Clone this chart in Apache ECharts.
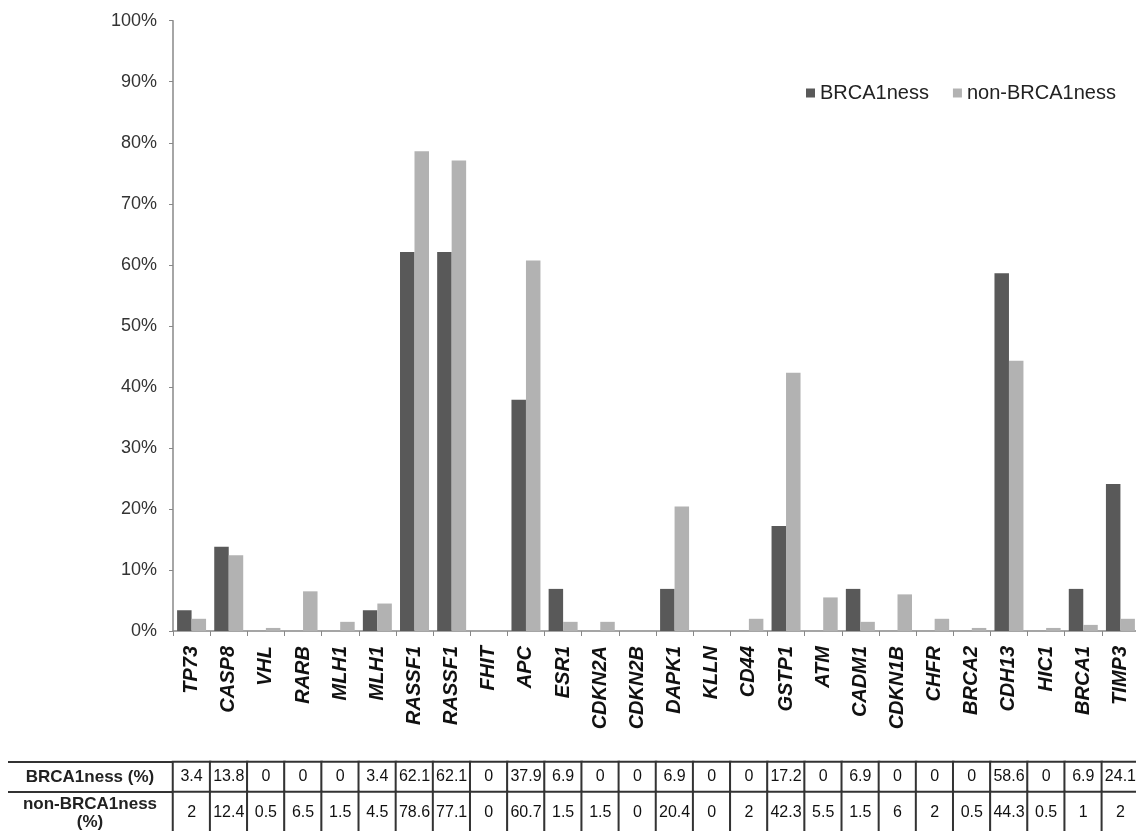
<!DOCTYPE html>
<html>
<head>
<meta charset="utf-8">
<script src="https://cdn.jsdelivr.net/npm/echarts@6/dist/echarts.min.js"></script>
<style>
html,body{margin:0;padding:0;background:#fff;}
#chart{width:1136px;height:831px;}
</style>
</head>
<body>
<div id="chart"></div>
<script>
const categories = ['TP73','CASP8','VHL','RARB','MLH1','MLH1','RASSF1','RASSF1','FHIT','APC','ESR1','CDKN2A','CDKN2B','DAPK1','KLLN','CD44','GSTP1','ATM','CADM1','CDKN1B','CHFR','BRCA2','CDH13','HIC1','BRCA1','TIMP3'];
const brca1ness = [3.4,13.8,0,0,0,3.4,62.1,62.1,0,37.9,6.9,0,0,6.9,0,0,17.2,0,6.9,0,0,0,58.6,0,6.9,24.1];
const nonBrca1ness = [2,12.4,0.5,6.5,1.5,4.5,78.6,77.1,0,60.7,1.5,1.5,0,20.4,0,2,42.3,5.5,1.5,6,2,0.5,44.3,0.5,1,2];
const seriesNames = ['BRCA1ness','non-BRCA1ness'];
const rowHeaders = ['BRCA1ness (%)','non-BRCA1ness\n(%)'];

const FONT = 'Arial, "Liberation Sans", sans-serif';
const chart = echarts.init(document.getElementById('chart'));

function tableY(idx, name) {
  return {
    gridIndex: idx, type: 'category', data: [name],
    axisLine: {show: true, lineStyle: {color: '#222', width: 2}},
    axisTick: {show: true, length: 165, lineStyle: {color: '#333', width: 2}},
    axisLabel: {align: 'center', margin: 83, fontSize: 17, fontWeight: 'bold', color: '#222', fontFamily: FONT, lineHeight: 18},
    splitLine: {show: false}
  };
}
function tableSeries(idx, values) {
  return {
    type: 'heatmap', xAxisIndex: idx, yAxisIndex: idx,
    data: values.map((v, i) => [i, 0, v]),
    itemStyle: {color: '#fff', borderColor: '#333', borderWidth: 2},
    label: {show: true, formatter: p => String(p.value[2]), fontSize: 16, color: '#111', fontFamily: FONT},
    emphasis: {disabled: true}
  };
}

chart.setOption({
  animation: false,
  textStyle: {fontFamily: FONT},
  legend: {
    data: seriesNames, left: 801, top: 78, icon: 'rect',
    itemWidth: 9, itemHeight: 9, itemGap: 24,
    textStyle: {fontSize: 20, color: '#222', fontFamily: FONT}
  },
  grid: [
    {left: 173, top: 20.7, width: 966, height: 610.3, outerBoundsMode: 'none'},
    {left: 173, top: 762, width: 966, height: 30, outerBoundsMode: 'none'},
    {left: 173, top: 792, width: 966, height: 42, outerBoundsMode: 'none'}
  ],
  xAxis: [
    {gridIndex: 0, type: 'category', data: categories,
     axisLine: {lineStyle: {color: '#888', width: 1.5}},
     axisTick: {show: true, length: 5, lineStyle: {color: '#888'}},
     axisLabel: {interval: 0, rotate: 90, fontStyle: 'italic', fontWeight: 'bold', fontSize: 20, color: '#111', margin: 15, fontFamily: FONT}},
    {gridIndex: 1, type: 'category', data: categories, show: false},
    {gridIndex: 2, type: 'category', data: categories, show: false}
  ],
  yAxis: [
    {gridIndex: 0, type: 'value', min: 0, max: 100, interval: 10,
     axisLine: {show: true, lineStyle: {color: '#888', width: 1.5}},
     axisTick: {show: true, length: 4, lineStyle: {color: '#888'}},
     splitLine: {show: false},
     axisLabel: {formatter: '{value}%', fontSize: 18, color: '#333', margin: 16, fontFamily: FONT}},
    tableY(1, rowHeaders[0]),
    tableY(2, rowHeaders[1])
  ],
  series: [
    {name: seriesNames[0], type: 'bar', data: brca1ness, xAxisIndex: 0, yAxisIndex: 0,
     barCategoryGap: '22%', barGap: '0%', itemStyle: {color: '#595959'}},
    {name: seriesNames[1], type: 'bar', data: nonBrca1ness, xAxisIndex: 0, yAxisIndex: 0,
     barCategoryGap: '22%', barGap: '0%', itemStyle: {color: '#b2b2b2'}},
    tableSeries(1, brca1ness),
    tableSeries(2, nonBrca1ness)
  ]
});
</script>
</body>
</html>
